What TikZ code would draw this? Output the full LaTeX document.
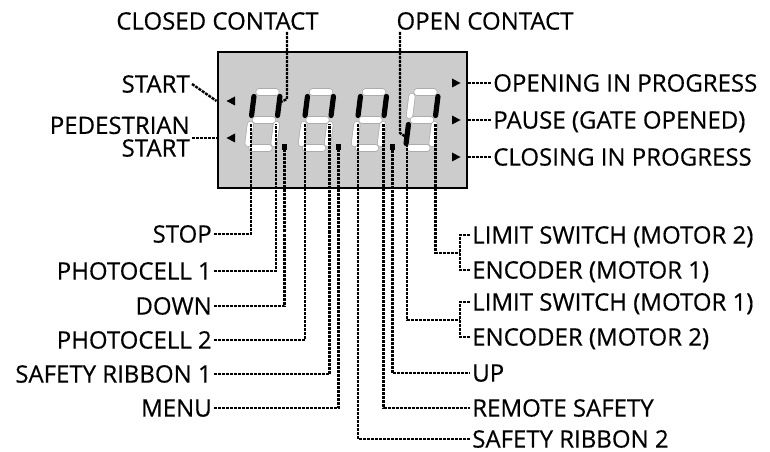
\documentclass[tikz,border=0pt]{standalone}
\usepackage{fontspec}
\setmainfont{Open Sans}[FakeBold=0.4]
\usetikzlibrary{calc}
\newcommand{\lblfont}{\fontsize{18pt}{17pt}\selectfont}
% seven-segment digit: #1 = x of bottom-left, #2..#8 = styles of segments a..g
\newcommand{\sevdigit}[8]{%
\begin{scope}[shift={(#1,148)}, xslant=0.125]
 \draw[#2] (4.5,-56) -- (21.5,-56);
 \draw[#3] (26,-51.5) -- (26,-32.5);
 \draw[#4] (26,-23.5) -- (26,-4.5);
 \draw[#5] (4.5,0) -- (21.5,0);
 \draw[#6] (0,-4.5) -- (0,-23.5);
 \draw[#7] (0,-32.5) -- (0,-51.5);
 \draw[#8] (4.5,-28) -- (21.5,-28);
\end{scope}}
\begin{document}
\begin{tikzpicture}[x=0.75pt, y=-0.75pt,
  lbl/.style={font=\lblfont, inner sep=1.5pt, text height=12.85pt, text depth=0pt},
  lead/.style={line width=1.8pt, dash pattern=on 2.25pt off 0.75pt},
  lit/.style={draw=black, line width=3.9pt, line cap=round},
  unlit/.style={draw=gray!65, double=white, double distance=4.2pt, line width=0.55pt, line cap=round},
  dotsq/.style={fill=black, minimum size=4pt, inner sep=0pt},
  tri/.style={fill=black}]
\useasboundingbox (0,0) rectangle (770,452);
% display
\node[draw, line width=2.2pt, fill=gray!40, minimum width=186.75pt, minimum height=102pt, inner sep=0pt] (disp) at (342.5,120) {};
\sevdigit{247.5}{unlit}{lit}{unlit}{unlit}{unlit}{lit}{unlit}
\sevdigit{301}{unlit}{lit}{unlit}{unlit}{unlit}{lit}{unlit}
\sevdigit{354}{unlit}{lit}{unlit}{unlit}{unlit}{lit}{unlit}
\sevdigit{405.5}{unlit}{lit}{unlit}{unlit}{lit}{unlit}{unlit}
\node[dotsq] (dot1) at (284.5,147) {};
\node[dotsq] (dot2) at (338.5,147) {};
\node[dotsq] (dot3) at (392.5,147) {};
% segment end points
\coordinate (d1e) at (250.7,124);
\coordinate (d1c) at (276,124);
\coordinate (d2e) at (305,124);
\coordinate (d2c) at (329.5,124);
\coordinate (d3e) at (358,124);
\coordinate (d3c) at (383.5,124);
\coordinate (d4e) at (407,124);
\coordinate (d4c) at (435.5,124);
\coordinate (d1b) at (281,102);
\coordinate (d4l) at (406,137);
\coordinate (cbend) at (287,99);
\coordinate (obend) at (400,133);
\coordinate (brkA) at (460,253);
\coordinate (brkB) at (460,320);
% triangles
\coordinate (tl1) at (231,101);
\coordinate (tl2) at (231,138);
\coordinate (tr1) at (456,83);
\coordinate (tr2) at (456,120);
\coordinate (tr3) at (456,157);
\fill[tri, shift={(tl1)}] (-4.5,0) -- (4,-4.5) -- (4,4.5) -- cycle;
\fill[tri, shift={(tl2)}] (-4.5,0) -- (4,-4.5) -- (4,4.5) -- cycle;
\fill[tri, shift={(tr1)}] (4.5,0) -- (-4,-4.5) -- (-4,4.5) -- cycle;
\fill[tri, shift={(tr2)}] (4.5,0) -- (-4,-4.5) -- (-4,4.5) -- cycle;
\fill[tri, shift={(tr3)}] (4.5,0) -- (-4,-4.5) -- (-4,4.5) -- cycle;
% top labels
\node[lbl] (closed) at (217.5,21) {CLOSED CONTACT};
\node[lbl] (open) at (485,21) {OPEN CONTACT};
% left labels
\node[lbl, anchor=east] (start) at (192,84) {START};
\node[lbl, anchor=east, align=right] (ped) at (192,148) {PEDESTRIAN\\START};
\node[lbl, anchor=east] (stop) at (214,234) {STOP};
\node[lbl, anchor=east] (ph1) at (214,271) {PHOTOCELL 1};
\node[lbl, anchor=east] (down) at (214,306) {DOWN};
\node[lbl, anchor=east] (ph2) at (214,340) {PHOTOCELL 2};
\node[lbl, anchor=east] (sr1) at (214,374) {SAFETY RIBBON 1};
\node[lbl, anchor=east] (menu) at (214,408) {MENU};
% right labels
\node[lbl, anchor=west] (opening) at (491,83) {OPENING IN PROGRESS};
\node[lbl, anchor=west] (pause) at (491,120) {PAUSE (GATE OPENED)};
\node[lbl, anchor=west] (closing) at (491,157) {CLOSING IN PROGRESS};
\node[lbl, anchor=west] (ls2) at (470,235) {LIMIT SWITCH (MOTOR 2)};
\node[lbl, anchor=west] (enc1) at (470,270) {ENCODER (MOTOR 1)};
\node[lbl, anchor=west] (ls1) at (470,302) {LIMIT SWITCH (MOTOR 1)};
\node[lbl, anchor=west] (enc2) at (470,337) {ENCODER (MOTOR 2)};
\node[lbl, anchor=west] (up) at (470,373) {UP};
\node[lbl, anchor=west] (remote) at (470,408) {REMOTE SAFETY};
\node[lbl, anchor=west] (sr2) at (470,439) {SAFETY RIBBON 2};
% connectors
\draw[lead] (closed.south -| cbend) -- (cbend) -- (d1b);
\draw[lead] (open.south -| obend) -- (obend) -- (d4l);
\draw[lead] (start.east) -- (disp.west |- tl1);
\draw[lead] (ped.east |- tl2) -- (disp.west |- tl2);
\draw[lead] (disp.east |- tr1) -- (opening.west);
\draw[lead] (disp.east |- tr2) -- (pause.west);
\draw[lead] (disp.east |- tr3) -- (closing.west);
\draw[lead] (stop.east) -| (d1e);
\draw[lead] (ph1.east) -| (d1c);
\draw[lead] (down.east) -| (dot1);
\draw[lead] (ph2.east) -| (d2e);
\draw[lead] (sr1.east) -| (d2c);
\draw[lead] (menu.east) -| (dot2);
\draw[lead] (d3e) |- (sr2.west);
\draw[lead] (d3c) |- (remote.west);
\draw[lead] (dot3) |- (up.west);
\draw[lead] (d4e) |- (brkB);
\draw[lead] (ls1.west) -| (brkB) |- (enc2.west);
\draw[lead] (d4c) |- (brkA);
\draw[lead] (ls2.west) -| (brkA) |- (enc1.west);
\end{tikzpicture}
\end{document}
